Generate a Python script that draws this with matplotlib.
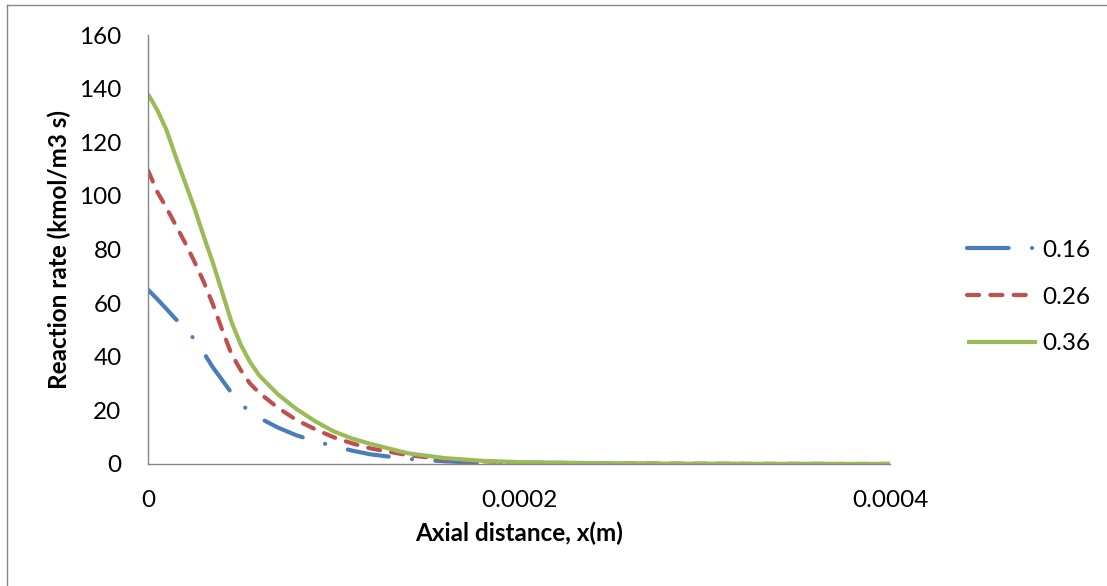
import matplotlib.pyplot as plt
from matplotlib.lines import Line2D
import numpy as np

plt.rcParams["font.family"] = ["Lato", "DejaVu Sans"]

# axial positions (m) and reaction rates (kmol/m3 s) for each case
x_pos = [0, 0.5e-5, 1e-5, 1.5e-5, 2e-5, 2.5e-5, 3e-5, 3.5e-5, 4e-5, 4.5e-5, 5e-5,
         5.5e-5, 6e-5, 7e-5, 8e-5, 9e-5, 1.0e-4, 1.1e-4, 1.2e-4, 1.4e-4, 1.6e-4,
         1.8e-4, 2.0e-4, 2.5e-4, 3.0e-4, 3.5e-4, 4.0e-4]
rate_016 = [65, 61.5, 57.8, 54, 50.5, 46.5, 41.5, 36, 31.3, 26.5, 22.4,
            19.5, 17.2, 13.6, 10.7, 8.5, 6.7, 5.0, 3.6, 1.9, 1.0,
            0.4, 0.2, 0.05, 0.02, 0.01, 0.0]
rate_026 = [109.5, 101.5, 95.5, 89, 82.5, 75.5, 68, 59.5, 50, 41, 35,
            30, 26.5, 21, 16.4, 13, 10, 7.7, 5.8, 3.3, 1.8,
            1.0, 0.55, 0.2, 0.08, 0.03, 0.01]
rate_036 = [138, 132, 124.5, 114.5, 105, 95.5, 85, 75, 64, 53, 44.5,
            38, 33, 26, 20.5, 16, 12.2, 9.5, 7.5, 4.0, 2.2,
            1.2, 0.7, 0.25, 0.1, 0.04, 0.02]
labels = ["0.16", "0.26", "0.36"]

colors = ["#4A7EBB", "#C0504D", "#9BBB59"]
styles = [(0, (10.0, 5.6, 0.01, 5.6)), (0, (2.9, 2.7)), "-"]

W, H = 1107, 586
FS = 17.5
fig = plt.figure(figsize=(W / 100, H / 100), dpi=100)
ax = fig.add_axes([148 / W, 1 - 464 / H, (890 - 148) / W, (464 - 35) / H])

for y, lab, c, ls in zip([rate_016, rate_026, rate_036], labels, colors, styles):
    ax.plot(x_pos, y, color=c, linestyle=ls, linewidth=3.0, label=lab,
            dash_capstyle="round", solid_capstyle="butt", solid_joinstyle="round")

ax.set_xlim(0, 0.0004)
ax.set_ylim(0, 160)
ax.set_xticks([0, 0.0002, 0.0004])
ax.set_xticklabels(["0", "0.0002", "0.0004"])
ax.set_yticks(range(0, 161, 20))
ax.tick_params(axis="both", length=0, labelsize=FS, colors="black")
ax.tick_params(axis="x", pad=19)
ax.tick_params(axis="y", pad=19)

for side in ("top", "right"):
    ax.spines[side].set_visible(False)
for side in ("left", "bottom"):
    ax.spines[side].set_color("#868686")
    ax.spines[side].set_linewidth(1.0)

ax.set_xlabel("Axial distance, x(m)", fontsize=FS, fontweight="bold", labelpad=7)
ax.set_ylabel("Reaction rate (kmol/m3 s)", fontsize=FS, fontweight="bold", labelpad=6)

ax.legend(loc="center left", bbox_to_anchor=(967 / W, 1 - 297 / H),
          bbox_transform=fig.transFigure, frameon=False, fontsize=FS,
          borderpad=0, borderaxespad=0,
          handlelength=2.9, handletextpad=0.2, labelspacing=1.05)

# chart frame
fig.add_artist(Line2D([7 / W, 7 / W], [0, 1 - 5 / H], color="#878787", linewidth=1))
fig.add_artist(Line2D([7 / W, 1], [1 - 5 / H, 1 - 5 / H], color="#878787", linewidth=1))

fig.savefig("out.png", dpi=100)
